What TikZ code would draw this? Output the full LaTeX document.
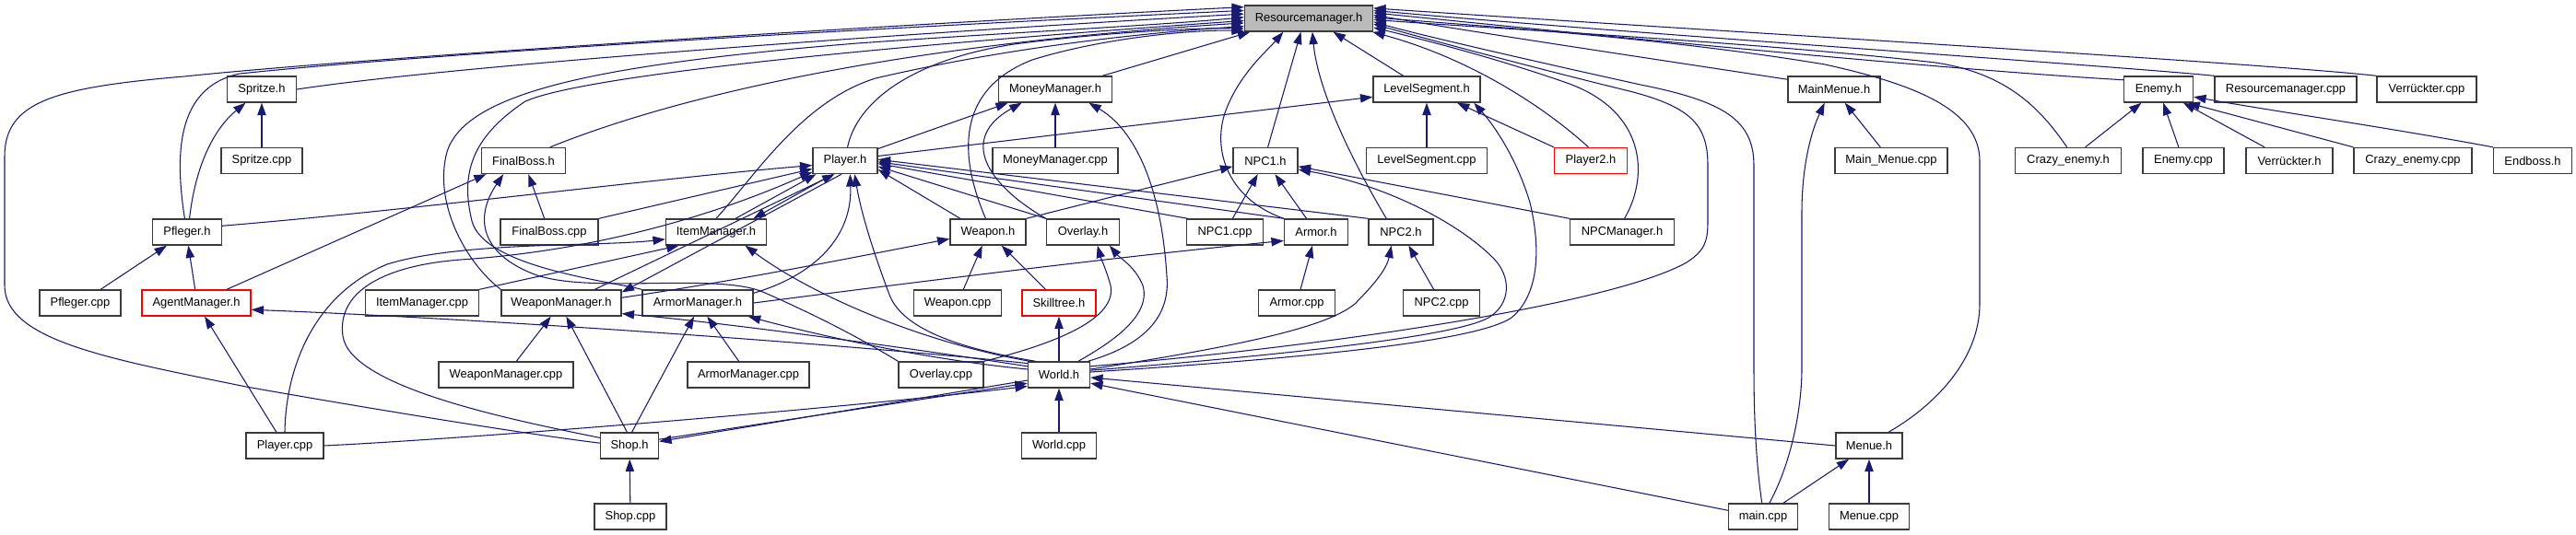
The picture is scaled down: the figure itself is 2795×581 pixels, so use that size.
\documentclass[tikz,border=0pt]{standalone}
\usepackage{fontspec}
\setmainfont{Liberation Sans}
\usetikzlibrary{arrows.meta}
\definecolor{edgecol}{HTML}{191970}
\definecolor{bordercol}{HTML}{3A3A3A}
\begin{document}
\begin{tikzpicture}[x=0.75pt,y=-0.75pt,
  box/.style={draw=bordercol,line width=1.05pt,fill=white,minimum height=21pt,inner sep=0pt,font=\fontsize{9.7}{11}\selectfont},
  bw/.style={minimum width=#1*0.75pt},
  redbox/.style={box,draw=red},
  dep/.style={draw=edgecol,line width=0.8pt,-{Triangle[length=10pt,width=7pt]}}]
\fill[white] (0,0) rectangle (2795,581);
\useasboundingbox (0,0) rectangle (2795,581);
% row 1
\node[box,bw=139,fill=black!27] (R) at (1420,20) {Resourcemanager.h};
% row 2
\node[box,bw=75]  (spritzeh)   at (284,97)  {Spritze.h};
\node[box,bw=123] (moneyh)     at (1145,97) {MoneyManager.h};
\node[box,bw=116] (levelh)     at (1548,97) {LevelSegment.h};
\node[box,bw=100] (mainmenueh) at (1990,97) {MainMenue.h};
\node[box,bw=75]  (enemyh)     at (2342,97) {Enemy.h};
\node[box,bw=154] (rescpp)     at (2480,97) {Resourcemanager.cpp};
\node[box,bw=108] (verrcpp)    at (2633,97) {Verrückter.cpp};
% row 3
\node[box,bw=88]  (spritzecpp)   at (284,174.5)  {Spritze.cpp};
\node[box,bw=91]  (finalbossh)   at (568,174.5)  {FinalBoss.h};
\node[box,bw=70]  (playerh)      at (917,174.5)  {Player.h};
\node[box,bw=136] (moneycpp)     at (1145,174.5) {MoneyManager.cpp};
\node[box,bw=70]  (npc1h)        at (1373,174.5) {NPC1.h};
\node[box,bw=131] (levelcpp)     at (1548,174.5) {LevelSegment.cpp};
\node[redbox,bw=79] (player2h)   at (1726,174.5) {Player2.h};
\node[box,bw=122] (mainmenuecpp) at (2052,174.5) {Main\_Menue.cpp};
\node[box,bw=115] (crazyh)       at (2244,174.5) {Crazy\_enemy.h};
\node[box,bw=88]  (enemycpp)     at (2369,174.5) {Enemy.cpp};
\node[box,bw=94]  (verrh)        at (2484,174.5) {Verrückter.h};
\node[box,bw=128] (crazycpp)     at (2618,174.5) {Crazy\_enemy.cpp};
\node[box,bw=85]  (endbossh)     at (2748,174.5) {Endboss.h};
% row 4
\node[box,bw=75]  (pflegerh)     at (203,252)  {Pfleger.h};
\node[box,bw=106] (finalbosscpp) at (596,252)  {FinalBoss.cpp};
\node[box,bw=109] (itemh)        at (777,252)  {ItemManager.h};
\node[box,bw=82]  (weaponh)      at (1072,252) {Weapon.h};
\node[box,bw=79]  (overlayh)     at (1175,252) {Overlay.h};
\node[box,bw=83]  (npc1cpp)      at (1329,252) {NPC1.cpp};
\node[box,bw=69]  (armorh)       at (1428,252) {Armor.h};
\node[box,bw=70]  (npc2h)        at (1520,252) {NPC2.h};
\node[box,bw=113] (npcmgrh)      at (1760,252) {NPCManager.h};
% row 5
\node[box,bw=88]  (pflegercpp) at (87,329)   {Pfleger.cpp};
\node[redbox,bw=118] (agenth)  at (213,329)  {AgentManager.h};
\node[box,bw=123] (itemcpp)    at (458,329)  {ItemManager.cpp};
\node[box,bw=130] (weaponmgrh) at (609,329)  {WeaponManager.h};
\node[box,bw=120] (armormgrh)  at (757,329)  {ArmorManager.h};
\node[box,bw=95]  (weaponcpp)  at (1039,329) {Weapon.cpp};
\node[redbox,bw=80] (skillh)   at (1149,329) {Skilltree.h};
\node[box,bw=83]  (armorcpp)   at (1407,329) {Armor.cpp};
\node[box,bw=83]  (npc2cpp)    at (1564,329) {NPC2.cpp};
% row 6
\node[box,bw=146] (weaponmgrcpp) at (549,407)  {WeaponManager.cpp};
\node[box,bw=132] (armormgrcpp)  at (812,407)  {ArmorManager.cpp};
\node[box,bw=92]  (overlaycpp)   at (1021,407) {Overlay.cpp};
\node[box,bw=67]  (worldh)       at (1149,407) {World.h};
% row 7
\node[box,bw=84] (playercpp) at (309,484)  {Player.cpp};
\node[box,bw=63] (shoph)     at (683,484)  {Shop.h};
\node[box,bw=81] (worldcpp)  at (1149,484) {World.cpp};
\node[box,bw=72] (menueh)    at (2028,484) {Menue.h};
% row 8
\node[box,bw=78] (shopcpp)  at (684,561)  {Shop.cpp};
\node[box,bw=75] (maincpp)  at (1913,561) {main.cpp};
\node[box,bw=87] (menuecpp) at (2028,561) {Menue.cpp};

% ---- edges into Resourcemanager.h ----
\draw[dep] (spritzeh.east) .. controls (500,70) and (1000,35) .. (R.176);
\draw[dep] (pflegerh.100) .. controls (190,170) and (190,95) .. (260,80) .. controls (500,55) and (1000,28) .. (R.173);
\draw[dep] (shoph.175) .. controls (560,470) and (380,440) .. (267,420) .. controls (120,390) and (5,370) .. (5,310) -- (5,170) .. controls (5,110) and (60,95) .. (200,83) .. controls (400,62) and (1000,25) .. (R.170);
\draw[dep] (finalbossh.27) .. controls (720,110) and (950,50) .. (R.184);
\draw[dep] (playerh.80) .. controls (930,110) and (990,65) .. (1100,48) .. controls (1200,35) and (1300,30) .. (R.189);
\draw[dep] (itemh.north) .. controls (820,190) and (870,110) .. (950,85) .. controls (1100,50) and (1250,35) .. (R.187);
\draw[dep] (weaponmgrh.north west) .. controls (505,285) and (470,220) .. (485,165) .. controls (505,100) and (650,70) .. (930,47) .. controls (1100,35) and (1250,28) .. (R.179);
\draw[dep] (armormgrh.north west) .. controls (660,305) and (525,290) .. (512,240) .. controls (500,190) and (510,150) .. (570,110) .. controls (650,75) and (1100,40) .. (R.182);
\draw[dep] (moneyh.16) -- (R.193);
\draw[dep] (weaponh.100) .. controls (1045,180) and (1030,100) .. (1120,65) .. controls (1200,40) and (1300,32) .. (R.191);
\draw[dep] (levelh.150) -- (R.331);
\draw[dep] (npc1h.80) -- (R.240);
\draw[dep] (armorh.north west) .. controls (1330,215) and (1315,160) .. (1330,120) .. controls (1345,80) and (1375,55) .. (R.208);
\draw[dep] (npc2h.137) .. controls (1470,180) and (1430,100) .. (R.285);
\draw[dep] (player2h.100) .. controls (1680,120) and (1600,65) .. (R.348);
\draw[dep] (npcmgrh.80) .. controls (1790,190) and (1785,120) .. (1700,90) .. controls (1620,62) and (1540,42) .. (R.352);
\draw[dep] (worldh.15) .. controls (1450,375) and (1750,330) .. (1830,285) .. controls (1850,272) and (1853,262) .. (1853,240) -- (1853,180) .. controls (1853,135) and (1835,115) .. (1760,97) .. controls (1650,70) and (1540,40) .. (R.355);
\draw[dep] (maincpp.95) .. controls (1905,500) and (1903,450) .. (1903,400) -- (1903,180) .. controls (1903,130) and (1870,110) .. (1780,92) .. controls (1680,70) and (1540,38) .. (R.357);
\draw[dep] (menueh.35) .. controls (2100,440) and (2148,390) .. (2148,330) -- (2148,175) .. controls (2148,120) and (2080,92) .. (1980,70) .. controls (1800,40) and (1600,28) .. (R.1);
\draw[dep] (crazyh.95) .. controls (2215,120) and (2180,80) .. (2100,68) .. controls (1900,45) and (1600,30) .. (R.359);
\draw[dep] (mainmenueh.168) .. controls (1800,65) and (1600,35) .. (R.3);
\draw[dep] (enemyh.165) .. controls (2100,75) and (1700,35) .. (R.5);
\draw[dep] (rescpp.north west) .. controls (2300,72) and (1750,35) .. (R.7);
\draw[dep] (verrcpp.north west) .. controls (2450,68) and (1800,30) .. (R.9);

% ---- Spritze / Pfleger / Agent / FinalBoss ----
\draw[dep] (spritzecpp) -- (spritzeh);
\draw[dep] (pflegerh.80) .. controls (212,180) and (232,140) .. (spritzeh.220);
\draw[dep] (pflegerh.10) .. controls (450,228) and (700,195) .. (playerh.188);
\draw[dep] (pflegercpp) -- (pflegerh);
\draw[dep] (agenth.95) -- (pflegerh.275);
\draw[dep] (agenth.24) -- (finalbossh.200);
\draw[dep] (finalbosscpp) -- (finalbossh);
\draw[dep] (finalbosscpp.north east) -- (playerh.194);
\draw[dep] (overlaycpp.north west) .. controls (930,365) and (880,340) .. (830,318) .. controls (780,295) and (640,320) .. (580,298) .. controls (520,275) and (515,235) .. (finalbossh.214);
\draw[dep] (worldh.160) .. controls (900,372) and (500,345) .. (agenth.353);
\draw[dep] (playercpp) -- (agenth);

% ---- Player.h / ItemManager ----
\draw[dep] (playercpp.north) .. controls (310,400) and (340,320) .. (420,287) .. controls (500,262) and (650,268) .. (itemh.188);
\draw[dep] (playercpp.east) .. controls (500,477) and (900,445) .. (worldh.200);
\draw[dep] (itemh.35) -- (playerh.205);
\draw[dep] (playerh.228) -- (itemh.20);
\draw[dep] (itemcpp.north east) -- (itemh.200);
\draw[dep] (worldh.155) .. controls (1000,372) and (880,320) .. (itemh.335);
\draw[dep] (shoph.165) .. controls (550,455) and (380,420) .. (372,365) .. controls (365,315) and (420,288) .. (500,282) .. controls (650,272) and (780,232) .. (playerh.199);
\draw[dep] (playerh.20) -- (moneyh.196);
\draw[dep] (playerh.8) -- (levelh.188);
\draw[dep] (worldh.150) .. controls (1050,380) and (980,360) .. (965,320) .. controls (950,280) and (935,235) .. (playerh.305);
\draw[dep] (weaponh.154) -- (playerh.345);
\draw[dep] (overlayh.north west) -- (playerh.350);
\draw[dep] (npc1cpp.160) -- (playerh.355);
\draw[dep] (armorh.north west) -- (playerh.358);
\draw[dep] (npc2h.north west) -- (playerh.2);
\draw[dep] (weaponmgrh.22) -- (playerh.232);
\draw[dep] (playerh.255) -- (weaponmgrh.10);
\draw[dep] (armormgrh.10) .. controls (880,300) and (925,260) .. (playerh.290);

% ---- MoneyManager / LevelSegment / NPC ----
\draw[dep] (moneycpp) -- (moneyh);
\draw[dep] (overlayh.north west) .. controls (1070,200) and (1040,150) .. (moneyh.202);
\draw[dep] (worldh.25) .. controls (1240,375) and (1270,345) .. (1266,300) .. controls (1260,200) and (1230,140) .. (moneyh.338);
\draw[dep] (levelcpp) -- (levelh);
\draw[dep] (player2h.north west) -- (levelh.336);
\draw[dep] (worldh.5) .. controls (1400,390) and (1600,372) .. (1640,345) .. controls (1670,320) and (1672,270) .. (1660,220) .. controls (1645,170) and (1620,135) .. (levelh.344);
\draw[dep] (npc1cpp) -- (npc1h);
\draw[dep] (armorh) -- (npc1h);
\draw[dep] (npcmgrh.north west) -- (npc1h.350);
\draw[dep] (worldh.8) .. controls (1400,385) and (1580,365) .. (1615,345) .. controls (1640,330) and (1640,300) .. (1620,280) .. controls (1580,240) and (1500,200) .. (npc1h.345);
\draw[dep] (weaponh.north east) -- (npc1h.190);

% ---- Weapon / Overlay / Armor ----
\draw[dep] (weaponcpp) -- (weaponh);
\draw[dep] (skillh) -- (weaponh);
\draw[dep] (weaponmgrh.5) .. controls (800,305) and (950,275) .. (weaponh.190);
\draw[dep] (worldh) -- (skillh);
\draw[dep] (overlaycpp.north east) .. controls (1150,372) and (1212,345) .. (1205,310) .. controls (1200,292) and (1195,282) .. (overlayh.317);
\draw[dep] (worldh.35) .. controls (1200,375) and (1250,345) .. (1240,310) .. controls (1232,290) and (1215,280) .. (overlayh.333);
\draw[dep] (armorcpp) -- (armorh);
\draw[dep] (armormgrh.east) .. controls (950,312) and (1200,280) .. (armorh.195);
\draw[dep] (npc2cpp) -- (npc2h);
\draw[dep] (worldh.10) .. controls (1350,375) and (1440,355) .. (1470,330) .. controls (1495,305) and (1505,290) .. (npc2h.235);

% ---- World / Shop / managers ----
\draw[dep] (worldh.165) .. controls (1000,380) and (800,352) .. (weaponmgrh.350);
\draw[dep] (worldh.170) .. controls (1000,390) and (880,362) .. (armormgrh.345);
\draw[dep] (worldcpp) -- (worldh);
\draw[dep] (shoph.12) -- (worldh.195);
\draw[dep] (worldh.190) -- (shoph.8);
\draw[dep] (menueh.west) -- (worldh.355);
\draw[dep] (maincpp.170) -- (worldh.345);
\draw[dep] (weaponmgrcpp) -- (weaponmgrh);
\draw[dep] (shoph.100) -- (weaponmgrh.290);
\draw[dep] (armormgrcpp) -- (armormgrh);
\draw[dep] (shoph.80) -- (armormgrh.255);
\draw[dep] (shopcpp) -- (shoph);

% ---- menus ----
\draw[dep] (mainmenuecpp) -- (mainmenueh);
\draw[dep] (maincpp.65) .. controls (1945,500) and (1955,440) .. (1955,400) -- (1955,230) .. controls (1955,190) and (1962,150) .. (mainmenueh.235);
\draw[dep] (maincpp) -- (menueh);
\draw[dep] (menuecpp) -- (menueh);

% ---- enemies ----
\draw[dep] (crazyh) -- (enemyh);
\draw[dep] (enemycpp) -- (enemyh);
\draw[dep] (verrh) -- (enemyh);
\draw[dep] (crazycpp.north west) -- (enemyh.335);
\draw[dep] (endbossh.north west) .. controls (2600,140) and (2450,118) .. (enemyh.348);
\end{tikzpicture}
\end{document}
